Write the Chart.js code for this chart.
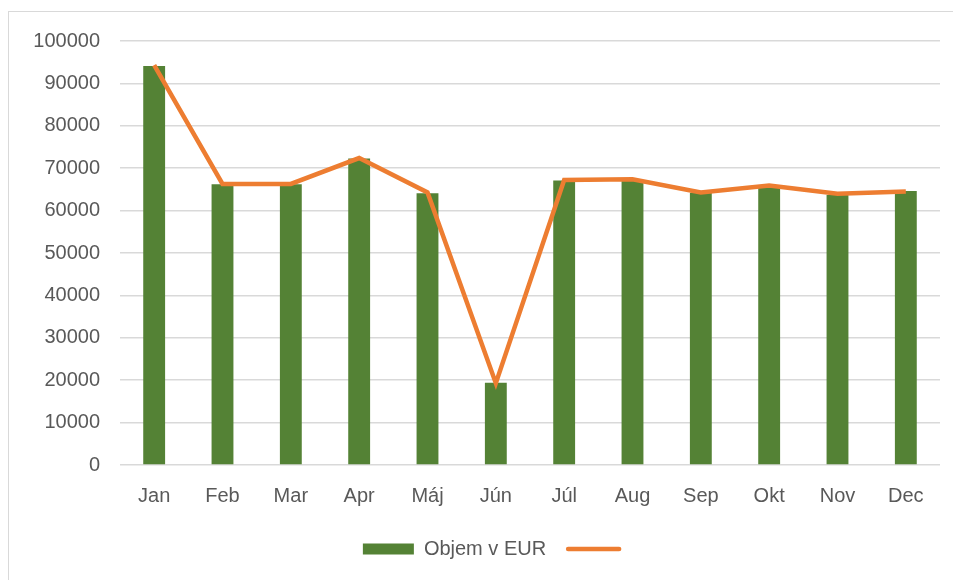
<!DOCTYPE html>
<html>
<head>
<meta charset="utf-8">
<script src="https://cdn.jsdelivr.net/npm/chart.js@4.4.0/dist/chart.umd.min.js"></script>
<style>
  body { margin: 0; background: #fff; }
  #wrap { position: relative; width: 953px; height: 580px; overflow: hidden; }
  #frame { position: absolute; left: 8px; top: 11px; width: 1000px; height: 700px; border: 1px solid #d9d9d9; }
  #myChart { position: absolute; left: 0; top: 0; }
</style>
</head>
<body>
<div id="wrap">
  <div id="frame"></div>
  <canvas id="myChart" width="953" height="580"></canvas>
</div>
<script>
const mesiace = ['Jan', 'Feb', 'Mar', 'Apr', 'Máj', 'Jún', 'Júl', 'Aug', 'Sep', 'Okt', 'Nov', 'Dec']
const objem = [94100, 66200, 66200, 72300, 64100, 19400, 67100, 67200, 64200, 65400, 63700, 64600]
const trend = [94300, 66300, 66300, 72400, 64300, 19300, 67200, 67400, 64300, 65900, 64000, 64500]
const yTicks = [0, 10000, 20000, 30000, 40000, 50000, 60000, 70000, 80000, 90000, 100000]

const green = '#548235'
const orange = '#ED7D31'
const textColor = '#595959'

Chart.defaults.font.family = '"Liberation Sans", Arial, sans-serif'
Chart.defaults.font.size = 20
Chart.defaults.color = textColor

// legend in the original sits a bit right of centre
const posunLegendy = {
    id: 'posunLegendy',
    afterLayout(chart) {
        if (chart.legend) {
            chart.legend.left += 26
            chart.legend.right += 26
        }
    }
}

var ctx = document.getElementById('myChart')
var myChart = new Chart(ctx, {
    type: 'bar',
    data: {
        labels: mesiace,
        datasets: [{
            label: 'Objem v EUR',
            data: objem,
            backgroundColor: green,
            barPercentage: 0.32,
            categoryPercentage: 1,
            order: 2
        }, {
            type: 'line',
            label: '',
            data: trend,
            borderColor: orange,
            borderWidth: 4.5,
            pointRadius: 0,
            tension: 0,
            fill: false,
            order: 1
        }]
    },
    plugins: [posunLegendy],
    options: {
        responsive: false,
        animation: false,
        layout: { padding: { top: 41, right: 13, bottom: 11, left: 0 } },
        plugins: {
            tooltip: { enabled: false },
            legend: {
                position: 'bottom',
                labels: {
                    usePointStyle: true,
                    pointStyleWidth: 51,
                    boxHeight: 11,
                    padding: 22,
                    color: textColor,
                    generateLabels: (chart) => [
                        { text: 'Objem v EUR', fillStyle: green, strokeStyle: green, lineWidth: 0, pointStyle: 'rect', datasetIndex: 0, fontColor: textColor },
                        { text: '', fillStyle: orange, strokeStyle: orange, lineWidth: 4.5, lineCap: 'round', pointStyle: 'line', datasetIndex: 1 }
                    ]
                }
            }
        },
        scales: {
            x: {
                afterFit: (scale) => { scale.height = 52 },
                grid: { display: false },
                border: { display: false },
                ticks: { padding: 11 }
            },
            y: {
                min: 0,
                max: 100000,
                afterBuildTicks: (scale) => { scale.ticks = yTicks.map(v => ({ value: v })) },
                afterFit: (scale) => { scale.width = 120 },
                grid: { color: '#d9d9d9', lineWidth: 1.5, drawTicks: false },
                border: { display: false },
                ticks: { padding: 20, callback: (v) => String(v) }
            }
        }
    }
})
</script>
</body>
</html>
